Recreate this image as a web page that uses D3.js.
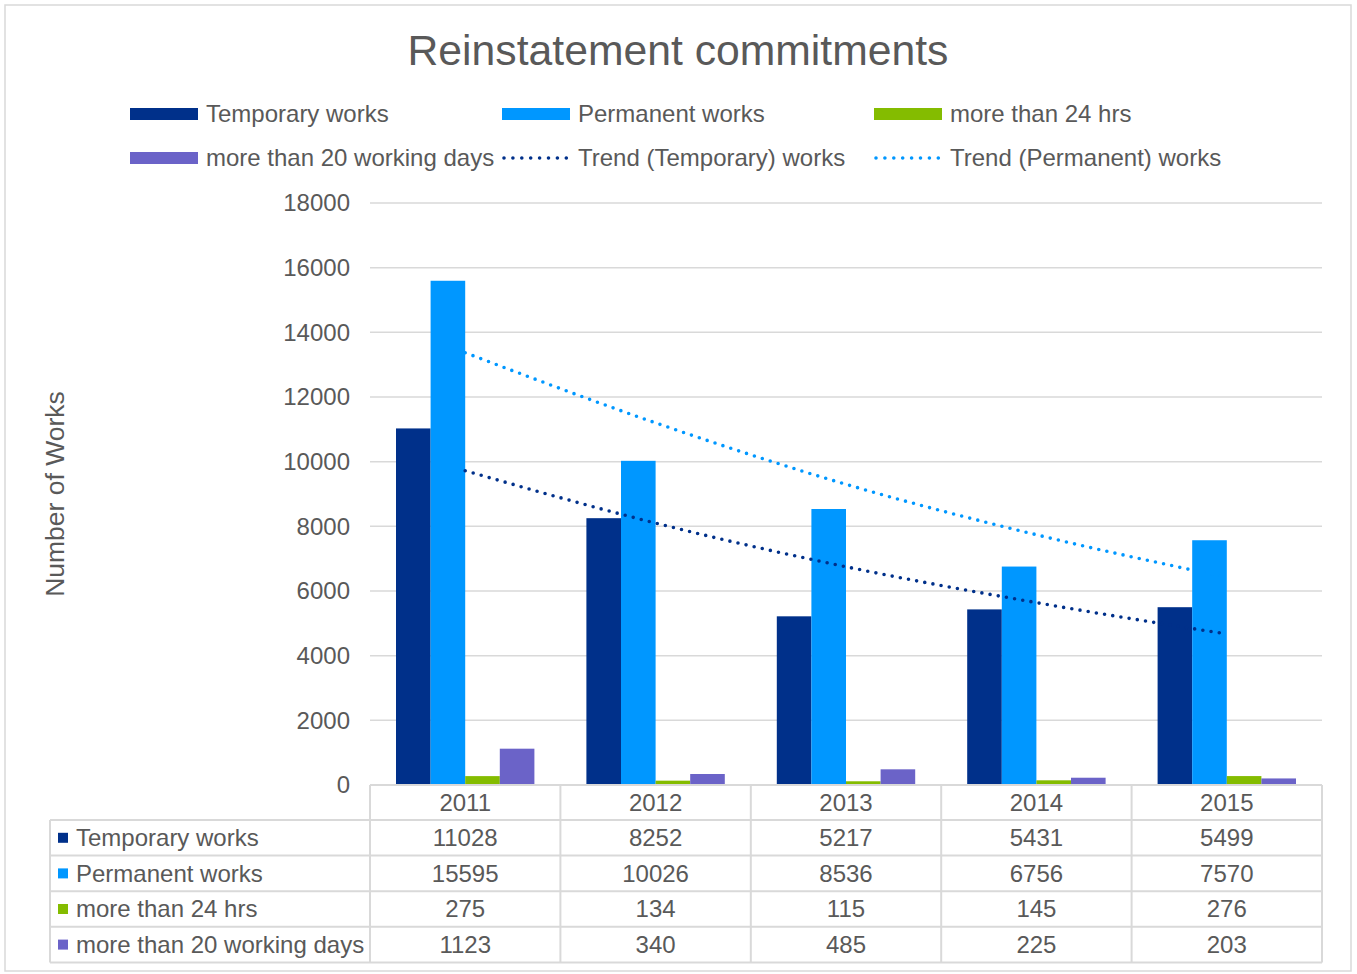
<!DOCTYPE html>
<html>
<head>
<meta charset="utf-8">
<script src="https://cdn.jsdelivr.net/npm/d3@7"></script>
<style>
  body { margin: 0; background: #fff; }
  svg text { font-family: "Liberation Sans", Arial, sans-serif; fill: #595959; }
</style>
</head>
<body>
<svg id="chart" width="1357" height="974"></svg>
<script>
const years = ['2011', '2012', '2013', '2014', '2015'];
const temporaryWorks = [11028, 8252, 5217, 5431, 5499];
const permanentWorks = [15595, 10026, 8536, 6756, 7570];
const over24Hrs = [275, 134, 115, 145, 276];
const over20Days = [1123, 340, 485, 225, 203];
// trend values at each year
const trendTemporary = [9720, 8100, 6750, 5640, 4670];
const trendPermanent = [13370, 11200, 9300, 7740, 6420];
const yTicks = [0, 2000, 4000, 6000, 8000, 10000, 12000, 14000, 16000, 18000];

const series = [
  { name: 'Temporary works', values: temporaryWorks, color: '#00308a' },
  { name: 'Permanent works', values: permanentWorks, color: '#0097ff' },
  { name: 'more than 24 hrs', values: over24Hrs, color: '#84bc00' },
  { name: 'more than 20 working days', values: over20Days, color: '#6b63c8' },
];
const trends = [
  { name: 'Trend (Temporary) works', values: trendTemporary, color: '#00308a' },
  { name: 'Trend (Permanent) works', values: trendPermanent, color: '#0097ff' },
];

const svg = d3.select('#chart');
const grid = '#d9d9d9';
const fontSize = '24px';

const plot = { left: 370, right: 1322, top: 203, bottom: 785 };

// outer frame
svg.append('rect')
  .attr('x', 5).attr('y', 5)
  .attr('width', 1346).attr('height', 966)
  .attr('fill', 'none')
  .attr('stroke', grid)
  .attr('stroke-width', 1.5);

svg.append('text')
  .attr('x', 678).attr('y', 65)
  .attr('text-anchor', 'middle')
  .style('font-size', '42.7px')
  .text('Reinstatement commitments');

const x = d3.scaleBand().domain(years).range([plot.left, plot.right]);
const x1 = d3.scaleBand()
  .domain(series.map(s => s.name))
  .range([26, x.bandwidth() - 26]);
const y = d3.scaleLinear().domain([0, 18000]).range([plot.bottom, plot.top]);

// gridlines
svg.append('g')
  .selectAll('line')
  .data(yTicks.slice(1))
  .join('line')
    .attr('x1', plot.left).attr('x2', plot.right)
    .attr('y1', d => y(d)).attr('y2', d => y(d))
    .attr('stroke', grid)
    .attr('stroke-width', 1.5);

// y axis labels
const yAxis = d3.axisLeft(y)
  .tickValues(yTicks)
  .tickFormat(d3.format('d'))
  .tickSize(0)
  .tickPadding(20);
svg.append('g')
  .attr('transform', `translate(${plot.left},0)`)
  .call(yAxis)
  .call(g => g.select('.domain').remove())
  .selectAll('text')
    .style('font-size', fontSize)
    .attr('fill', '#595959');

// bars
series.forEach(s => {
  svg.append('g')
    .selectAll('rect')
    .data(s.values)
    .join('rect')
      .attr('x', (d, i) => x(years[i]) + x1(s.name))
      .attr('y', d => y(d))
      .attr('width', x1.bandwidth())
      .attr('height', d => y(0) - y(d))
      .attr('fill', s.color);
});

// trend lines
const line = d3.line()
  .x((d, i) => x(years[i]) + x.bandwidth() / 2)
  .y(d => y(d))
  .curve(d3.curveMonotoneX);

trends.forEach(t => {
  svg.append('path')
    .attr('d', line(t.values))
    .attr('fill', 'none')
    .attr('stroke', t.color)
    .attr('stroke-width', 3.6)
    .attr('stroke-linecap', 'round')
    .attr('stroke-dasharray', '0 8.3');
});

// axis title
svg.append('text')
  .attr('transform', 'translate(64,494) rotate(-90)')
  .attr('text-anchor', 'middle')
  .style('font-size', '26.5px')
  .text('Number of Works');

// legend
const legendItems = [
  ...series.map(s => ({ ...s, kind: 'bar' })),
  ...trends.map(t => ({ ...t, kind: 'trend' })),
];
const legendCols = [130, 502, 874];
const legendRows = [114, 158];
legendItems.forEach((item, i) => {
  const lx = legendCols[i % 3];
  const ly = legendRows[Math.floor(i / 3)];
  const g = svg.append('g').attr('transform', `translate(${lx},${ly})`);
  if (item.kind === 'bar') {
    g.append('rect')
      .attr('x', 0).attr('y', -6)
      .attr('width', 68).attr('height', 12)
      .attr('fill', item.color);
  } else {
    g.append('line')
      .attr('x1', 2).attr('x2', 66)
      .attr('y1', 0).attr('y2', 0)
      .attr('stroke', item.color)
      .attr('stroke-width', 3.6)
      .attr('stroke-linecap', 'round')
      .attr('stroke-dasharray', '0 8.9');
  }
  g.append('text')
    .attr('x', 76).attr('y', 0)
    .attr('dy', '0.35em')
    .style('font-size', fontSize)
    .text(item.name);
});

// data table
const table = { left: 50, header: 35, rowH: 35.6 };
const tableBottom = plot.bottom + table.header + series.length * table.rowH;
const tg = svg.append('g').attr('stroke', grid).attr('stroke-width', 2);

// horizontal lines
tg.append('line')
  .attr('x1', plot.left).attr('x2', plot.right)
  .attr('y1', plot.bottom).attr('y2', plot.bottom);
d3.range(series.length + 1).forEach(r => {
  const ry = plot.bottom + table.header + r * table.rowH;
  tg.append('line')
    .attr('x1', table.left).attr('x2', plot.right)
    .attr('y1', ry).attr('y2', ry);
});
// vertical lines
tg.append('line')
  .attr('x1', table.left).attr('x2', table.left)
  .attr('y1', plot.bottom + table.header).attr('y2', tableBottom);
[...years.map(yr => x(yr)), plot.right].forEach(vx => {
  tg.append('line')
    .attr('x1', vx).attr('x2', vx)
    .attr('y1', plot.bottom).attr('y2', tableBottom);
});

// year headers
svg.append('g')
  .selectAll('text')
  .data(years)
  .join('text')
    .attr('x', d => x(d) + x.bandwidth() / 2)
    .attr('y', plot.bottom + table.header / 2)
    .attr('dy', '0.35em')
    .attr('text-anchor', 'middle')
    .style('font-size', fontSize)
    .text(d => d);

series.forEach((s, r) => {
  const cy = plot.bottom + table.header + (r + 0.5) * table.rowH;
  svg.append('rect')
    .attr('x', 58).attr('y', cy - 5)
    .attr('width', 10).attr('height', 10)
    .attr('fill', s.color);
  svg.append('text')
    .attr('x', 76).attr('y', cy)
    .attr('dy', '0.35em')
    .style('font-size', fontSize)
    .text(s.name);
  svg.append('g')
    .selectAll('text')
    .data(s.values)
    .join('text')
      .attr('x', (d, i) => x(years[i]) + x.bandwidth() / 2)
      .attr('y', cy)
      .attr('dy', '0.35em')
      .attr('text-anchor', 'middle')
      .style('font-size', fontSize)
      .text(d => d);
});
</script>
</body>
</html>
